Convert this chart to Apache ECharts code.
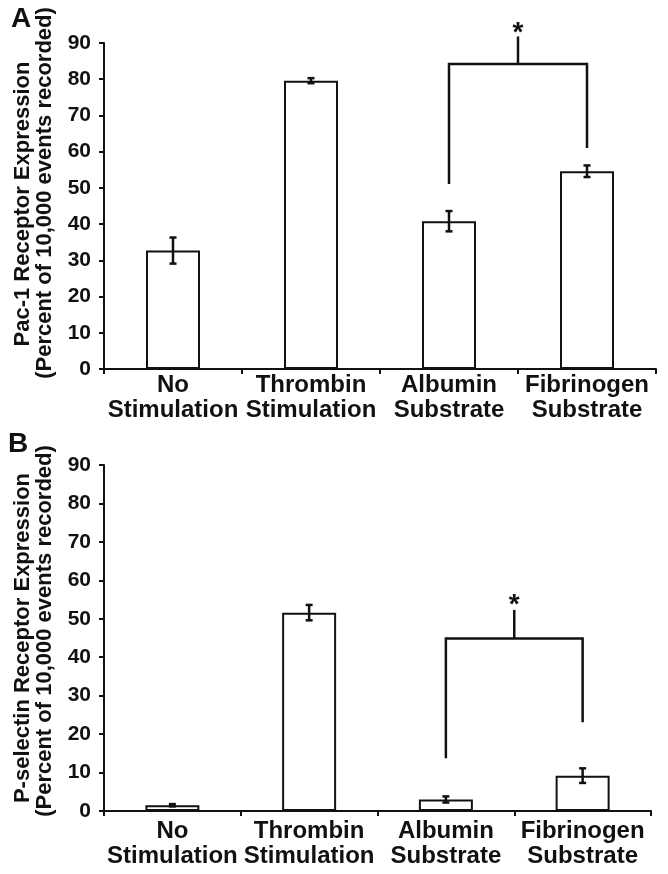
<!DOCTYPE html>
<html><head><meta charset="utf-8">
<script src="https://cdn.jsdelivr.net/npm/echarts@6/dist/echarts.min.js"></script>
<style>html,body{margin:0;padding:0;background:#fff}#c{width:668px;height:874px}</style>
</head><body><div id="c"></div>
<script>
// ---- data ----
const categories = ['No\nStimulation', 'Thrombin\nStimulation', 'Albumin\nSubstrate', 'Fibrinogen\nSubstrate'];
const yMin = 0, yMax = 90, yStep = 10;
const pac1Mean = [32.7, 79.6, 40.8, 54.6];
const pac1Err = [3.6, 0.7, 2.8, 1.6];
const pselMean = [1.5, 51.6, 3.0, 9.2];
const pselErr = [0.3, 2.0, 0.8, 1.9];
// significance bracket: [fromCat, toCat, leftFoot, rightFoot, barLevel, tickTop, starCenter]
const pac1Bracket = [2, 3, 51.1, 61.0, 84.2, 91.8, 94.5];
const pselBracket = [2, 3, 13.7, 23.1, 44.9, 52.3, 55.2];
const panelLetters = ['A', 'B'];
const pac1Title = ['Pac-1 Receptor Expression', '(Percent of 10,000 events recorded)'];
const pselTitle = ['P-selectin Receptor Expression', '(Percent of 10,000 events recorded)'];

// ---- rendering ----
const FONT = '"Liberation Sans", Arial, sans-serif';
const INK = '#111';
const chart = echarts.init(document.getElementById('c'), null, {renderer: 'canvas'});

function errItem(params, api) {
  const x = api.value(0), m = api.value(1), e = api.value(2);
  const hi = api.coord([x, m + e]), lo = api.coord([x, m - e]);
  const w = 3.5, st = {stroke: INK, lineWidth: 2.5};
  return {type: 'group', children: [
    {type: 'line', shape: {x1: hi[0], y1: hi[1], x2: lo[0], y2: lo[1]}, style: st},
    {type: 'line', shape: {x1: hi[0] - w, y1: hi[1], x2: hi[0] + w, y2: hi[1]}, style: st},
    {type: 'line', shape: {x1: lo[0] - w, y1: lo[1], x2: lo[0] + w, y2: lo[1]}, style: st}
  ]};
}
function bracketItem(params, api) {
  const a = api.value(0), b = api.value(1);
  const pL = api.coord([a, api.value(2)]), pR = api.coord([b, api.value(3)]);
  const yTop = api.coord([a, api.value(4)])[1];
  const tickTop = api.coord([a, api.value(5)])[1];
  const starY = api.coord([a, api.value(6)])[1];
  const xm = (pL[0] + pR[0]) / 2;
  const st = {stroke: INK, lineWidth: 2.5, fill: null};
  return {type: 'group', children: [
    {type: 'polyline', shape: {points: [[pL[0], pL[1]], [pL[0], yTop], [pR[0], yTop], [pR[0], pR[1]]]}, style: st},
    {type: 'line', shape: {x1: xm, y1: yTop, x2: xm, y2: tickTop}, style: st},
    {type: 'text', x: xm, y: starY + 0.23 * 28, style: {text: '*', font: 'bold 28px ' + FONT, align: 'center', verticalAlign: 'middle', fill: INK}}
  ]};
}

function xAxisFor(gi, margin) {
  return {
    type: 'category', gridIndex: gi, data: categories,
    axisLine: {lineStyle: {color: INK, width: 2}},
    axisTick: {show: true, length: 5, lineStyle: {color: INK, width: 2}},
    axisLabel: {color: INK, fontFamily: FONT, fontWeight: 'bold', fontSize: 24, lineHeight: 25, margin: margin, interval: 0}
  };
}
function yAxisFor(gi) {
  return {
    type: 'value', gridIndex: gi, min: yMin, max: yMax, interval: yStep,
    splitLine: {show: false},
    axisLine: {show: true, lineStyle: {color: INK, width: 2}},
    axisTick: {show: true, length: 5, lineStyle: {color: INK, width: 2}},
    axisLabel: {color: INK, fontFamily: FONT, fontWeight: 'bold', fontSize: 21, margin: 13}
  };
}
function barSeries(idx, vals) {
  return {type: 'bar', xAxisIndex: idx, yAxisIndex: idx, data: vals, barWidth: 54,
    itemStyle: {color: '#fff', borderColor: INK, borderWidth: 2}, silent: true, animation: false};
}
function errSeries(idx, mean, err) {
  return {type: 'custom', xAxisIndex: idx, yAxisIndex: idx, renderItem: errItem, z: 5, animation: false,
    encode: {x: 0, y: 1}, data: mean.map((m, i) => [i, m, err[i]])};
}
function bracketSeries(idx, br) {
  return {type: 'custom', xAxisIndex: idx, yAxisIndex: idx, renderItem: bracketItem, z: 6, animation: false,
    clip: false, encode: {x: 0, y: 4}, data: [br]};
}
function titleText(x, y, text) {
  return {type: 'text', x: x, y: y, rotation: Math.PI / 2,
    style: {text: text, font: 'bold 22px ' + FONT, align: 'center', verticalAlign: 'middle', fill: INK}};
}

chart.setOption({
  backgroundColor: '#fff',
  animation: false,
  grid: [
    {left: 104, right: 12, top: 43, bottom: 505},
    {left: 104, right: 17, top: 465, bottom: 63}
  ],
  xAxis: [xAxisFor(0, 4), xAxisFor(1, 8)],
  yAxis: [yAxisFor(0), yAxisFor(1)],
  series: [
    barSeries(0, pac1Mean), errSeries(0, pac1Mean, pac1Err), bracketSeries(0, pac1Bracket),
    barSeries(1, pselMean), errSeries(1, pselMean, pselErr), bracketSeries(1, pselBracket)
  ],
  graphic: [
    {type: 'text', x: 21, y: 19, style: {text: panelLetters[0], font: 'bold 28px ' + FONT, align: 'center', verticalAlign: 'middle', fill: INK}},
    {type: 'text', x: 18, y: 444, style: {text: panelLetters[1], font: 'bold 28px ' + FONT, align: 'center', verticalAlign: 'middle', fill: INK}},
    titleText(23, 204, pac1Title[0]),
    titleText(45, 193, pac1Title[1]),
    titleText(23, 638, pselTitle[0]),
    titleText(45, 631, pselTitle[1])
  ]
});
</script>
</body></html>
